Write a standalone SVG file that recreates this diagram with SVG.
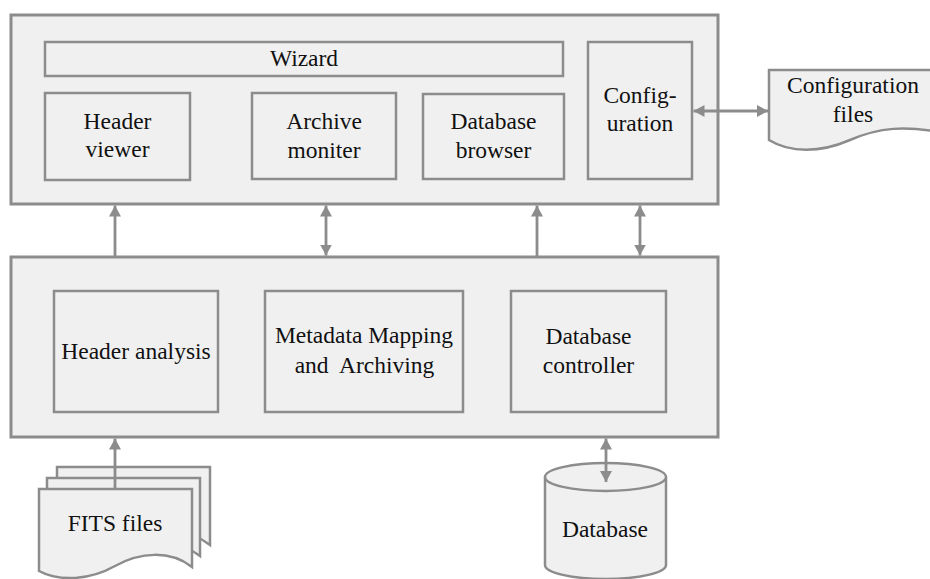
<svg xmlns="http://www.w3.org/2000/svg" width="930" height="579" viewBox="0 0 930 579">
  <style>
    .box { fill: #f0f0f0; stroke: #8c8c8c; stroke-width: 2.5; }
    .outer { fill: #f0f0f0; stroke: #8c8c8c; stroke-width: 3; }
    .lbl { font-family: 'Liberation Serif', 'Times New Roman', serif; font-size: 23.5px; fill: #111; text-anchor: middle; }
    .conn { stroke: #8c8c8c; stroke-width: 2.8; fill: none; }
  </style>
  <defs>
    <marker id="arrow" viewBox="0 0 11 12" refX="11" refY="6" markerWidth="11" markerHeight="12" markerUnits="userSpaceOnUse" orient="auto-start-reverse">
      <path d="M0,0 L11,6 L0,12 z" fill="#8c8c8c"/>
    </marker>
  </defs>
  <rect width="930" height="579" fill="#ffffff"/>

  <!-- user interface layer -->
  <g id="ui-layer">
    <rect class="outer" x="11" y="15" width="707" height="189"/>
  </g>
  <g id="wizard">
    <rect class="box" x="45" y="42" width="518" height="34"/>
    <text class="lbl" x="304" y="66">Wizard</text>
  </g>
  <g id="header-viewer">
    <rect class="box" x="45" y="93" width="145" height="87"/>
    <text class="lbl" x="117.5" y="129">Header</text>
    <text class="lbl" x="117.5" y="157">viewer</text>
  </g>
  <g id="archive-moniter">
    <rect class="box" x="252" y="93" width="144" height="86"/>
    <text class="lbl" x="324" y="129">Archive</text>
    <text class="lbl" x="324" y="158">moniter</text>
  </g>
  <g id="database-browser">
    <rect class="box" x="423" y="94" width="141" height="85"/>
    <text class="lbl" x="493.5" y="129">Database</text>
    <text class="lbl" x="493.5" y="158">browser</text>
  </g>
  <g id="configuration">
    <rect class="box" x="588" y="42" width="104" height="137"/>
    <text class="lbl" x="640" y="103">Config-</text>
    <text class="lbl" x="640" y="131">uration</text>
  </g>

  <!-- processing layer -->
  <g id="core-layer">
    <rect class="outer" x="11" y="257" width="707" height="180"/>
  </g>
  <g id="header-analysis">
    <rect class="box" x="54" y="291" width="164" height="121"/>
    <text class="lbl" x="136" y="359">Header analysis</text>
  </g>
  <g id="metadata-mapping">
    <rect class="box" x="265" y="291" width="198" height="121"/>
    <text class="lbl" x="364" y="343">Metadata Mapping</text>
    <text class="lbl" x="364.5" y="373">and&#160; Archiving</text>
  </g>
  <g id="database-controller">
    <rect class="box" x="511" y="291" width="155" height="121"/>
    <text class="lbl" x="588.5" y="344">Database</text>
    <text class="lbl" x="588.5" y="373">controller</text>
  </g>

  <!-- external files and storage -->
  <g id="configuration-files">
    <path class="box" d="M769,70 H965 V140 L940,132 C905,126 880,127 850,140 C820,153 790,153 769,140 Z"/>
    <text class="lbl" x="853" y="93">Configuration</text>
    <text class="lbl" x="853" y="122">files</text>
  </g>
  <g id="fits-files">
    <path class="box" transform="translate(18,-22)" d="M39,489 H192 V567 C170,550 140,552 115,566 C90,580 60,582 39,571 Z"/>
    <path class="box" transform="translate(8,-11)" d="M39,489 H192 V567 C170,550 140,552 115,566 C90,580 60,582 39,571 Z"/>
    <path class="box" d="M39,489 H192 V567 C170,550 140,552 115,566 C90,580 60,582 39,571 Z"/>
    <text class="lbl" x="115" y="531">FITS files</text>
  </g>
  <g id="database">
    <path class="box" d="M545,477 V565 A60.5,14 0 0 0 666,565 V477"/>
    <ellipse class="box" cx="605.5" cy="477" rx="60.5" ry="14"/>
    <text class="lbl" x="605" y="537">Database</text>
  </g>

  <!-- connectors -->
  <g id="connectors">
    <line class="conn" x1="115" y1="256" x2="115" y2="205.5" marker-end="url(#arrow)"/>
    <line class="conn" x1="326" y1="255.5" x2="326" y2="205.5" marker-start="url(#arrow)" marker-end="url(#arrow)"/>
    <line class="conn" x1="537" y1="256" x2="537" y2="205.5" marker-end="url(#arrow)"/>
    <line class="conn" x1="640" y1="255.5" x2="640" y2="205.5" marker-start="url(#arrow)" marker-end="url(#arrow)"/>
    <line class="conn" x1="115" y1="489" x2="115" y2="438.5" marker-end="url(#arrow)"/>
    <line class="conn" x1="606" y1="482" x2="606" y2="438.5" marker-start="url(#arrow)" marker-end="url(#arrow)"/>
    <line class="conn" x1="693.5" y1="111" x2="768" y2="111" marker-start="url(#arrow)" marker-end="url(#arrow)"/>
  </g>
</svg>
